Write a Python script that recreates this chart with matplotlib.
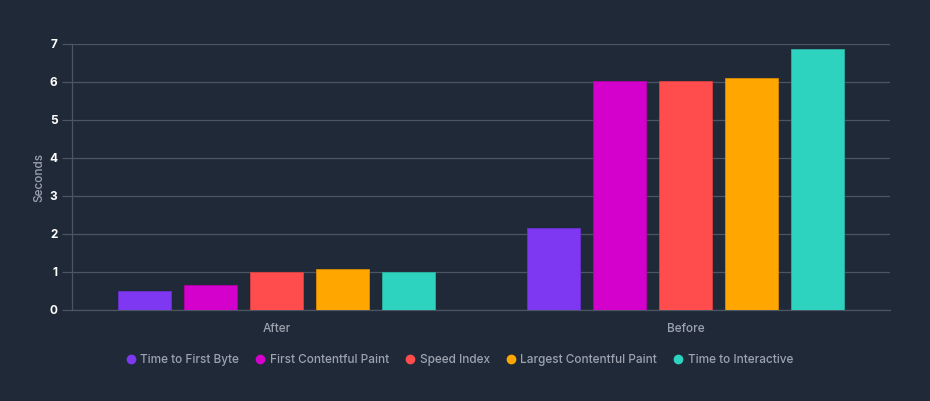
import numpy as np
import matplotlib.pyplot as plt
from matplotlib.lines import Line2D

# =========================
# DATA
# =========================
CATEGORIES = ["After", "Before"]
SERIES = ["Time to First Byte", "First Contentful Paint", "Speed Index",
          "Largest Contentful Paint", "Time to Interactive"]
TTFB = [0.50, 2.16]
FCP = [0.65, 6.02]
SPEED_INDEX = [1.00, 6.02]
LCP = [1.08, 6.10]
TTI = [0.99, 6.87]
VALUES = [TTFB, FCP, SPEED_INDEX, LCP, TTI]

# =========================
# STYLE
# =========================
BG = "#202938"
GRID = "#4b5563"
TEXT_GRAY = "#9ca3af"
COLORS = ["#7f38f2", "#d400cb", "#ff4c4c", "#ffa600", "#2ed3bf"]
EDGES = ["#6d2fd0", "#b300ab", "#d94040", "#d98c00", "#27b3a2"]
BAR_STEP = 0.161
BAR_WIDTH = 0.130

plt.rcParams["font.family"] = ["Inter", "DejaVu Sans"]

fig = plt.figure(figsize=(9.3, 4.01), dpi=100, facecolor=BG)
ax = fig.add_axes([72 / 930, 1 - 310 / 401, 818 / 930, 266 / 401])
ax.set_facecolor(BG)

x = np.arange(len(CATEGORIES))
for i, (name, vals) in enumerate(zip(SERIES, VALUES)):
    offs = (i - 2) * BAR_STEP
    ax.bar(x + offs, vals, width=BAR_WIDTH, color=COLORS[i],
           edgecolor=EDGES[i], linewidth=0.6, zorder=3, label=name)

ax.set_xlim(-0.5, 1.5)
ax.set_ylim(0, 7)
ax.set_yticks(range(0, 8))
ax.yaxis.grid(True, color=GRID, linewidth=0.9, zorder=0)
ax.set_axisbelow(True)

for s in ["top", "right"]:
    ax.spines[s].set_visible(False)
ax.spines["left"].set_color(GRID)
ax.spines["bottom"].set_color(GRID)
ax.spines["left"].set_linewidth(0.9)
ax.spines["bottom"].set_linewidth(0.9)

ax.tick_params(axis="y", colors=GRID, length=7.5, width=0.9, pad=3)
ax.tick_params(axis="x", length=0, pad=9)
for t in ax.get_yticklabels():
    t.set_color("white")
    t.set_fontweight("bold")
    t.set_fontsize(8.5)

ax.set_xticks(x)
ax.set_xticklabels(CATEGORIES, color=TEXT_GRAY, fontsize=8.5, fontweight="medium")
ax.set_ylabel("Seconds", color=TEXT_GRAY, fontsize=8.5, fontweight="medium", labelpad=3)

handles = [Line2D([0], [0], marker="o", linestyle="none", markersize=6,
                  markerfacecolor=c, markeredgecolor=c) for c in COLORS]
leg = fig.legend(handles, SERIES, loc="center", bbox_to_anchor=(459 / 930, 1 - 360 / 401),
                 ncol=5, frameon=False, fontsize=8.5, handletextpad=0.3,
                 columnspacing=1.3, handlelength=1.0)
for t in leg.get_texts():
    t.set_color(TEXT_GRAY)
    t.set_fontweight("medium")

fig.savefig("out.png", dpi=100, facecolor=BG)
